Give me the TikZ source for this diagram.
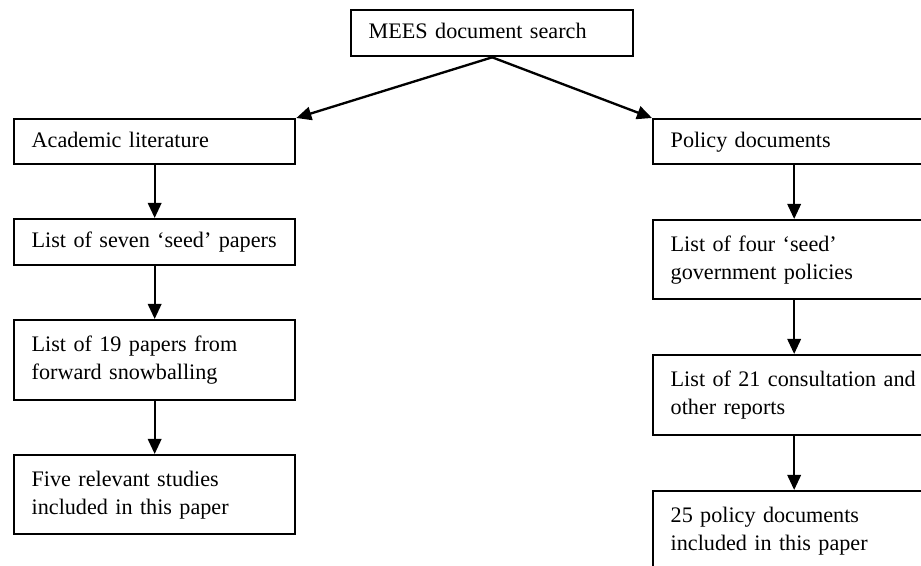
\documentclass[tikz,border=0pt]{standalone}
\usepackage{fontspec}
\setmainfont{Liberation Serif}
\usepackage{tikz}
\usetikzlibrary{arrows.meta}
\tikzstyle{stepBox} = [draw=black, line width=1.4pt, anchor=north west, align=left, inner xsep=10.5pt, inner ysep=0pt, font=\fontsize{13.3}{16.8}\selectfont]
\tikzstyle{flowArrow} = [line width=1.4pt, -{Triangle[length=9pt, width=8pt]}]
\newcommand{\pxSize}{0.6}
% name, left, top, width, height, text (sizes in pixels)
\newcommand{\stepNode}[6]{
  \pgfmathsetmacro{\boxTextWidth}{#4 * \pxSize - 21}
  \pgfmathsetmacro{\boxHeight}{#5 * \pxSize}
  \node [stepBox, text width=\boxTextWidth pt, minimum height=\boxHeight pt] (#1) at (#2,#3) {\strut #6\strut};
}

\begin{document}
\begin{tikzpicture}[x=0.6pt, y=-0.6pt]
  \useasboundingbox (0,0) rectangle (921,566);
  \clip (0,0) rectangle (921,566);
  \stepNode{search}{350}{9}{282}{46}{MEES document search}
  % academic side
  \stepNode{academic}{13}{118}{281}{45}{Academic literature}
  \stepNode{seedPapers}{13}{218}{281}{46}{List of seven ‘seed’ papers}
  \stepNode{snowballPapers}{13}{319}{281}{80}{List of 19 papers from\\forward snowballing}
  \stepNode{relevantStudies}{13}{454}{281}{79}{Five relevant studies\\included in this paper}
  % policy side
  \stepNode{policyDocs}{652}{118}{282}{45}{Policy documents}
  \stepNode{seedPolicies}{652}{219}{282}{79}{List of four ‘seed’\\government policies}
  \stepNode{consultReports}{652}{354}{282}{80}{List of 21 consultation and\\other reports}
  \stepNode{policyIncluded}{652}{490}{282}{80}{25 policy documents\\included in this paper}
  \draw [flowArrow] (search.south) -- (academic.north east);
  \draw [flowArrow] (search.south) -- (policyDocs.north west);
  \foreach \from/\to in {academic/seedPapers, seedPapers/snowballPapers, snowballPapers/relevantStudies, policyDocs/seedPolicies, seedPolicies/consultReports, consultReports/policyIncluded}
    \draw [flowArrow] (\from) -- (\to);
\end{tikzpicture}
\end{document}
